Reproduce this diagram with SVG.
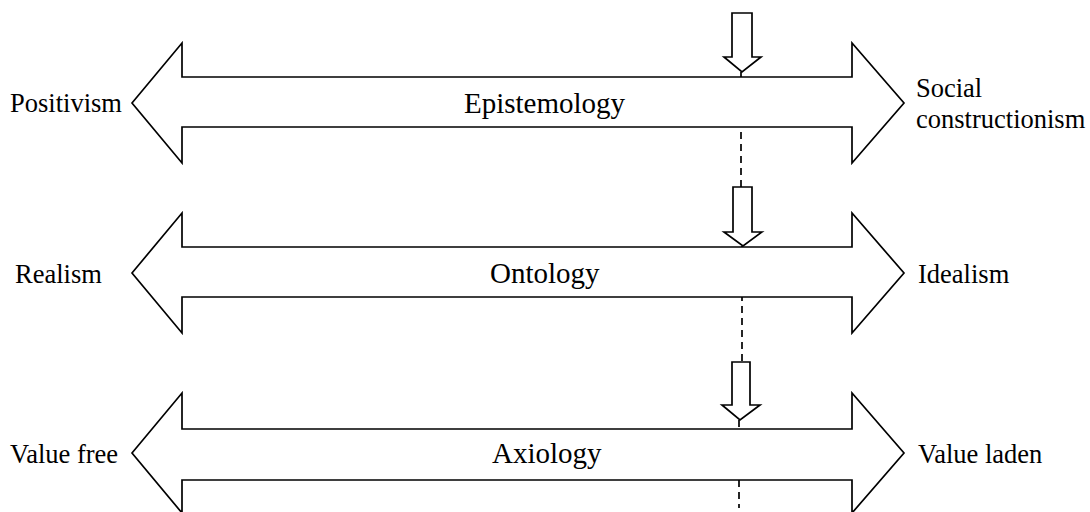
<svg xmlns="http://www.w3.org/2000/svg" width="1090" height="512" viewBox="0 0 1090 512">
<style>
.arrow{fill:#fff;stroke:#000;stroke-width:1.7;stroke-linejoin:miter}
.down{fill:#fff;stroke:#000;stroke-width:1.7}
.dash{stroke:#000;stroke-width:1.7;stroke-dasharray:7,5;fill:none}
.side{font-family:"Liberation Serif","Times New Roman",serif;font-size:26.5px;fill:#000}
.main{font-family:"Liberation Serif","Times New Roman",serif;font-size:29px;fill:#000}
</style>
<rect width="1090" height="512" fill="#fff"/>
<g id="connectors">
<line class="dash" x1="741" y1="72" x2="741" y2="187"/>
<line class="dash" x1="742" y1="246" x2="742" y2="362"/>
<line class="dash" x1="739" y1="420" x2="739" y2="508"/>
</g>
<g id="epistemology">
<polygon class="arrow" points="132,103 182,43 182,77 852,77 852,43 904,103 852,163 852,127 182,127 182,163"/>
<text class="main" x="464" y="113">Epistemology</text>
<text class="side" x="10" y="112">Positivism</text>
<text class="side" x="916" y="97">Social</text>
<text class="side" x="916" y="128">constructionism</text>
<polygon class="down" points="732,13 752,13 752,57 761,57 742,72 724,57 732,57"/>
</g>
<g id="ontology">
<polygon class="arrow" points="132,273 182,213 182,247 852,247 852,213 904,273 852,333 852,297 182,297 182,333"/>
<text class="main" x="490" y="283">Ontology</text>
<text class="side" x="15" y="283">Realism</text>
<text class="side" x="918" y="283">Idealism</text>
<polygon class="down" points="733,187 752,187 752,232 762,232 743,246 724,232 733,232"/>
</g>
<g id="axiology">
<polygon class="arrow" points="132,453 182,393 182,429 852,429 852,393 904,453 852,513 852,480 182,480 182,513"/>
<text class="main" x="492" y="463">Axiology</text>
<text class="side" x="10" y="463">Value free</text>
<text class="side" x="918" y="463">Value laden</text>
<polygon class="down" points="732,362 750,362 750,405 760,405 740,420 722,405 732,405"/>
</g>
</svg>
